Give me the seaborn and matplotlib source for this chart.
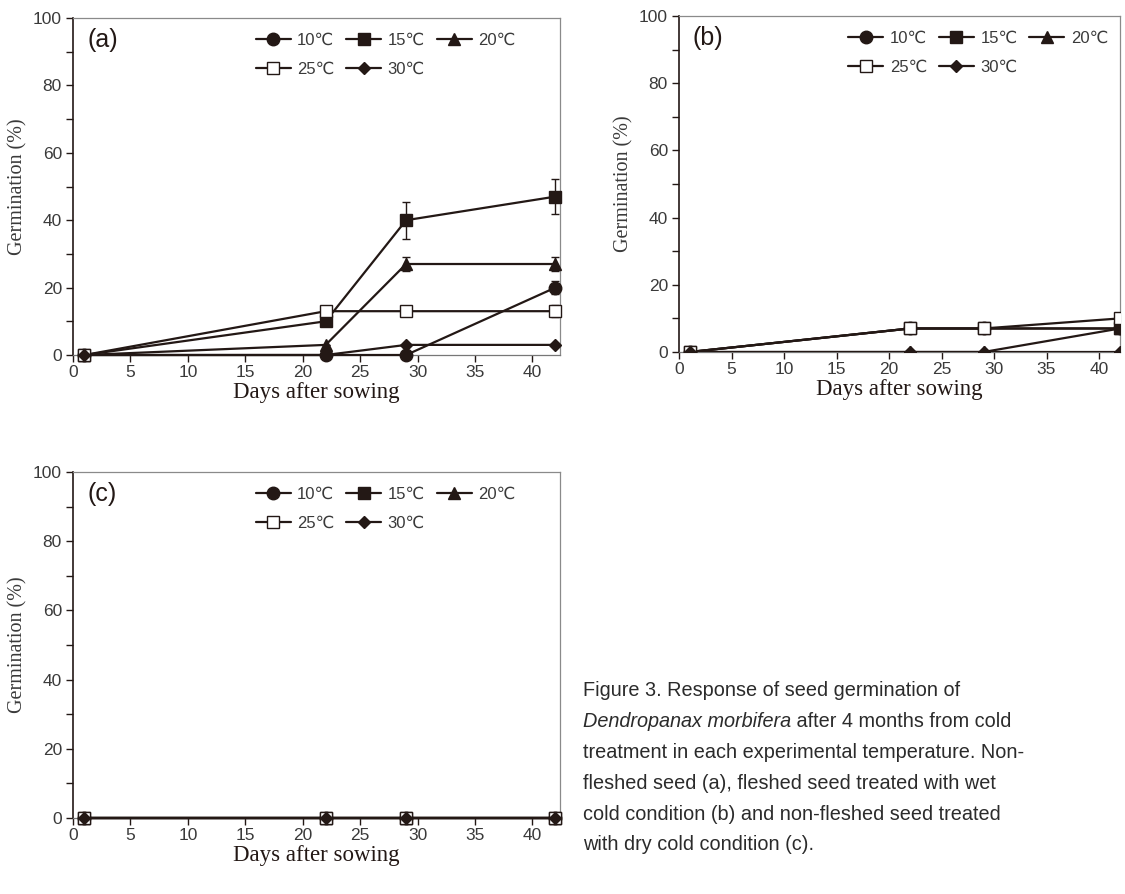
import matplotlib
matplotlib.use('Agg')
import matplotlib.pyplot as plt
import pandas as pd
import seaborn as sns

sns.set_style('ticks')
plt.rcParams['font.family'] = ['Liberation Sans', 'DejaVu Sans']

# Data
days = [1, 22, 29, 42]
temps = ['10℃', '15℃', '20℃', '25℃', '30℃']

# (a) non-fleshed seed
a_10 = [0, 0, 0, 20]
a_15 = [0, 10, 40, 47]
a_20 = [0, 3, 27, 27]
a_25 = [0, 13, 13, 13]
a_30 = [0, 0, 3, 3]
a_err_10 = [0, 0, 0, 2]
a_err_15 = [0, 0, 5.5, 5.3]
a_err_20 = [0, 0, 2, 2]
a_err_25 = [0, 1.5, 1.5, 1.8]
a_err_30 = [0, 0, 0, 0]

# (b) fleshed seed, wet cold
b_10 = [0, 7, 7, 7]
b_15 = [0, 7, 7, 7]
b_20 = [0, 0, 0, 7]
b_25 = [0, 7, 7, 10]
b_30 = [0, 0, 0, 0]
b_err_25 = [0, 0, 0, 1.5]

# (c) non-fleshed seed, dry cold
c_10 = [0, 0, 0, 0]
c_15 = [0, 0, 0, 0]
c_20 = [0, 0, 0, 0]
c_25 = [0, 0, 0, 0]
c_30 = [0, 0, 0, 0]

zero = [0, 0, 0, 0]
panels = {
    '(a)': ([a_10, a_15, a_20, a_25, a_30],
            [a_err_10, a_err_15, a_err_20, a_err_25, a_err_30]),
    '(b)': ([b_10, b_15, b_20, b_25, b_30],
            [zero, zero, zero, b_err_25, zero]),
    '(c)': ([c_10, c_15, c_20, c_25, c_30],
            [zero, zero, zero, zero, zero]),
}

ink = '#231815'
grey_txt = '#3a3a3a'
styles = [
    dict(marker='o', markersize=9, markerfacecolor=ink),
    dict(marker='s', markersize=8.5, markerfacecolor=ink),
    dict(marker='^', markersize=8.5, markerfacecolor=ink),
    dict(marker='s', markersize=8.5, markerfacecolor='white'),
    dict(marker='D', markersize=6.5, markerfacecolor=ink),
]

fig = plt.figure(figsize=(11.25, 8.94), dpi=100)
axes_pos = {
    '(a)': [73 / 1125, 1 - 355 / 894, 487 / 1125, 337 / 894],
    '(b)': [679 / 1125, 1 - 352 / 894, 441 / 1125, 336 / 894],
    '(c)': [73 / 1125, 1 - 818 / 894, 487 / 1125, 346 / 894],
}
xmax = {'(a)': 42.4, '(b)': 42.0, '(c)': 42.4}
leg_x = {'(a)': 0.344, '(b)': 0.35, '(c)': 0.344}

for name, (series, errs) in panels.items():
    ax = fig.add_axes(axes_pos[name])
    for temp, vals, err, st in zip(temps, series, errs, styles):
        df = pd.DataFrame({'Day': days, 'Germination': vals})
        sns.lineplot(data=df, x='Day', y='Germination', ax=ax, color=ink,
                     linewidth=1.6, markeredgecolor=ink, markeredgewidth=1.0,
                     label=temp, clip_on=(name == '(b)'), zorder=3, **st)
        if any(e > 0 for e in err):
            ax.errorbar(days, vals, yerr=err, fmt='none', ecolor=ink,
                        elinewidth=1.0, capsize=3, capthick=1.0, zorder=2)
    ax.set_xlim(0, xmax[name])
    ax.set_ylim(0, 100)
    ax.set_xticks(range(0, 45, 5))
    ax.set_yticks(range(0, 101, 20))
    ax.set_yticks(range(10, 100, 20), minor=True)
    ax.tick_params(axis='both', which='both', direction='out', colors=ink,
                   labelcolor=grey_txt, labelsize=12.5, width=1.0)
    ax.tick_params(axis='both', which='major', length=5)
    ax.tick_params(axis='y', which='minor', length=5)
    ax.tick_params(axis='x', which='major', pad=2)
    ax.tick_params(axis='y', which='major', pad=3)
    ax.spines['left'].set_color(ink)
    ax.spines['left'].set_linewidth(1.2)
    ax.spines['bottom'].set_color('#777777')
    ax.spines['top'].set_color('#8a8a8a')
    ax.spines['right'].set_color('#8a8a8a')
    for s in ['top', 'right', 'bottom']:
        ax.spines[s].set_linewidth(0.9)
    ax.set_xlabel('Days after sowing', family='Liberation Serif', fontsize=16.5,
                  color=ink, labelpad=2)
    ax.set_ylabel('Germination (%)', family='Liberation Serif', fontsize=14.5,
                  color=grey_txt, labelpad=4)
    ax.text(0.03, 0.935, name, transform=ax.transAxes, fontsize=18,
            color=ink, va='center', ha='left')
    # row-wise legend order: 10 15 20 / 25 30
    h, l = ax.get_legend_handles_labels()
    order = [0, 3, 1, 4, 2]
    ax.legend([h[i] for i in order], [l[i] for i in order],
              loc='upper left', bbox_to_anchor=(leg_x[name], 1.0),
              ncol=3, frameon=False, fontsize=12, handlelength=2.1,
              handletextpad=0.4, columnspacing=0.7, labelspacing=0.85,
              labelcolor=grey_txt)

caption = [
    'Figure 3. Response of seed germination of',
    None,
    'treatment in each experimental temperature. Non-',
    'fleshed seed (a), fleshed seed treated with wet',
    'cold condition (b) and non-fleshed seed treated',
    'with dry cold condition (c).',
]
x0 = 583 / 1125
cap_size = 14.3
for i, line in enumerate(caption):
    y = 1 - (691 + i * 30.8) / 894
    if line is None:
        t = fig.text(x0, y, 'Dendropanax morbifera', style='italic',
                     fontsize=cap_size, color='#2b2b2b', va='center')
        ax.annotate(' after 4 months from cold', xy=(1, 0.5), xycoords=t,
                    va='center', ha='left', fontsize=cap_size, color='#2b2b2b')
    else:
        fig.text(x0, y, line, fontsize=cap_size, color='#2b2b2b', va='center')

fig.savefig('out.png', dpi=100)
